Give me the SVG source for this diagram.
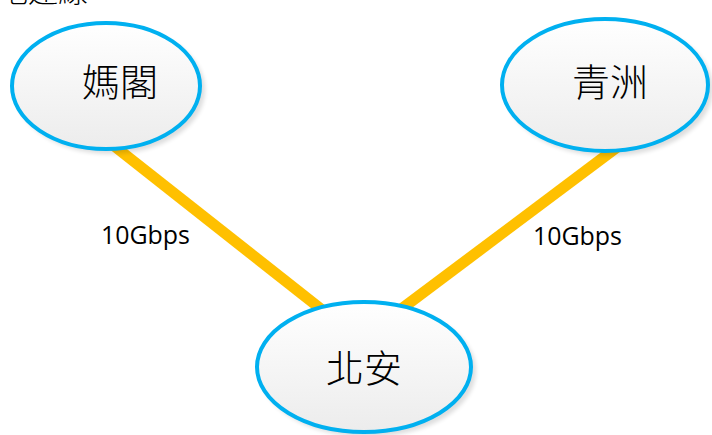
<svg xmlns="http://www.w3.org/2000/svg" width="712" height="435" viewBox="0 0 712 435">
  <defs>
    <linearGradient id="nodeFill" x1="0" y1="0" x2="0" y2="1">
      <stop offset="0" stop-color="#ffffff"/>
      <stop offset="1" stop-color="#ececec"/>
    </linearGradient>
    <filter id="shadow" x="-10%" y="-10%" width="130%" height="130%">
      <feGaussianBlur stdDeviation="2"/>
    </filter>
  </defs>
  <style>
    .link { stroke: #ffc000; stroke-width: 11; fill: none; }
    .node { fill: url(#nodeFill); stroke: #00b0f0; stroke-width: 4; }
    .shadow { fill: #000; opacity: 0.13; filter: url(#shadow); }
    .cjk { font-family: "Noto Sans CJK TC", "Noto Sans CJK SC", sans-serif; font-size: 38px; font-weight: 300; fill: #000; text-anchor: middle; }
    .lbl { font-family: "Open Sans", "Noto Sans", sans-serif; font-size: 25px; fill: #000; }
  </style>
  <rect width="712" height="435" fill="#ffffff"/>
  <text x="88" y="2" text-anchor="end" style="font-family: 'Noto Sans CJK TC', sans-serif; font-size: 30px; font-weight: 300; fill: #000;">地連線</text>
  <g id="connectors">
    <line class="link" x1="80" y1="119" x2="340" y2="324"/>
    <line class="link" x1="640" y1="130" x2="380" y2="325"/>
  </g>
  <g id="label-left">
    <text class="lbl" x="101" y="244" textLength="89" lengthAdjust="spacingAndGlyphs">10Gbps</text>
  </g>
  <g id="label-right">
    <text class="lbl" x="533" y="245" textLength="89" lengthAdjust="spacingAndGlyphs">10Gbps</text>
  </g>
  <g id="node-mage">
    <ellipse class="shadow" cx="110" cy="90" rx="95" ry="64"/>
    <ellipse class="node" cx="106" cy="86" rx="94" ry="63"/>
    <text class="cjk" x="120" y="96">媽閣</text>
  </g>
  <g id="node-qingzhou">
    <ellipse class="shadow" cx="609" cy="89" rx="104" ry="67"/>
    <ellipse class="node" cx="605" cy="85" rx="103" ry="66"/>
    <text class="cjk" x="610" y="96">青洲</text>
  </g>
  <g id="node-beian">
    <ellipse class="shadow" cx="368" cy="371" rx="108" ry="66"/>
    <ellipse class="node" cx="364" cy="367" rx="107" ry="65"/>
    <text class="cjk" x="364" y="382">北安</text>
  </g>
</svg>
